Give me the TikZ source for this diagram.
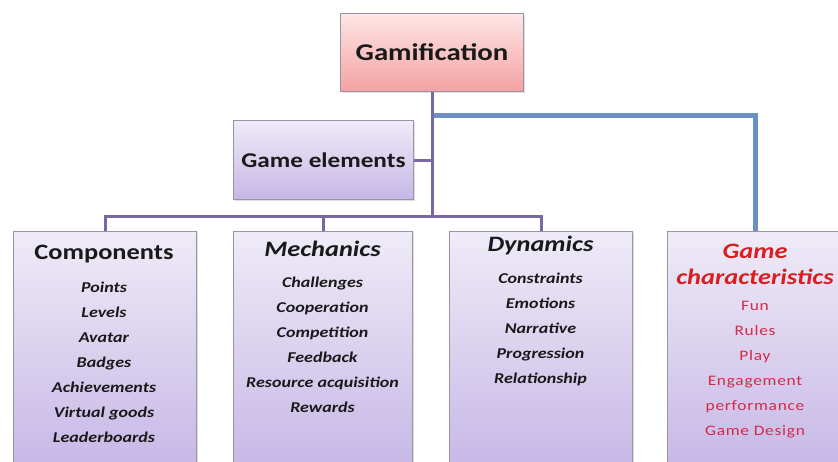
\documentclass[tikz,border=0pt]{standalone}
\usepackage{fontspec}
\setmainfont{Carlito}
\newfontfamily\widefont[FakeStretch=1.2]{Carlito}
\newfontfamily\spacedfont[FakeStretch=1.2,LetterSpace=5]{Carlito}
\usetikzlibrary{positioning,shadows}

\definecolor{boxtop}{HTML}{EFEBF7}
\definecolor{boxbot}{HTML}{C6B7E6}
\definecolor{pinktop}{HTML}{FFE6E6}
\definecolor{pinkbot}{HTML}{F3A2A2}
\definecolor{treeline}{HTML}{7A68A6}
\definecolor{charline}{HTML}{6E8FC4}
\definecolor{chartext}{HTML}{D81E1E}
\definecolor{charitem}{HTML}{D42A48}
\definecolor{boxframe}{HTML}{9A92A8}

\begin{document}
\begin{tikzpicture}[
    x=1pt, y=-1pt,
    box/.style={draw=boxframe, line width=1pt, top color=boxtop, bottom color=boxbot,
        anchor=north west, inner sep=0pt,
        drop shadow={shadow xshift=1.5pt, shadow yshift=-1.5pt, opacity=0.25}},
    head/.style={font=\widefont\bfseries\fontsize{22}{26}\selectfont, text=black!90,
        align=center, inner sep=0pt},
    ihead/.style={head, font=\widefont\bfseries\itshape\fontsize{22}{26}\selectfont},
    items/.style={font=\widefont\bfseries\itshape\fontsize{15}{25}\selectfont, text=black!90,
        align=center, inner sep=0pt, anchor=north},
    tree/.style={draw=treeline, line width=3pt},
    charlink/.style={draw=charline, line width=5pt}
]
    \useasboundingbox (0,0) rectangle (838,461);
    \clip (0,0) rectangle (838,461);

    % top boxes
    \node[box, minimum width=183, minimum height=78, top color=pinktop, bottom color=pinkbot,
        font=\widefont\bfseries\fontsize{24}{28}\selectfont, text=black!90] (gam) at (340,13) {Gamification};
    \node[box, minimum width=180, minimum height=79,
        font=\widefont\bfseries\fontsize{21}{25}\selectfont, text=black!90] (gel) at (233,120) {Game elements};

    % lower boxes
    \node[box, minimum width=183, minimum height=240] (comp) at (13,231) {};
    \node[box, minimum width=179, minimum height=240] (mech) at (233,231) {};
    \node[box, minimum width=183, minimum height=240] (dyn) at (449,231) {};
    \node[box, minimum width=176, minimum height=240] (gch) at (667,231) {};

    \node[head] (comphead) at (104,254) {Components};
    \node[ihead] (mechhead) at (322.5,249) {Mechanics};
    \node[ihead] (dynhead) at (540.5,246) {Dynamics};
    \node[ihead, text=chartext] (gchhead) at (755,264) {Game\\characteristics};

    \node[items] (complist) at (104,282) {Points\\Levels\\Avatar\\Badges\\Achievements\\Virtual goods\\Leaderboards};
    \node[items] (mechlist) at (322.5,277) {Challenges\\Cooperation\\Competition\\Feedback\\Resource acquisition\\Rewards};
    \node[items] (dynlist) at (540.5,273) {Constraints\\Emotions\\Narrative\\Progression\\Relationship};
    \node[items, font=\spacedfont\fontsize{14.5}{25}\selectfont, text=charitem] (gchlist) at (755,301)
        {Fun\\Rules\\Play\\Engagement\\performance\\Game Design};

    % connectors
    \coordinate (charfork) at (432,115);
    \coordinate (bar) at (432,216);
    \draw[charlink] (charfork) -| (gch.north);
    \draw[tree] (gam.south) -- (bar);
    \draw[tree] (gel.east) -- (gel.east -| bar);
    \draw[tree] (comp.north) |- (bar) -| (dyn.north);
    \draw[tree] (mech.north) -- (mech.north |- bar);
\end{tikzpicture}
\end{document}
